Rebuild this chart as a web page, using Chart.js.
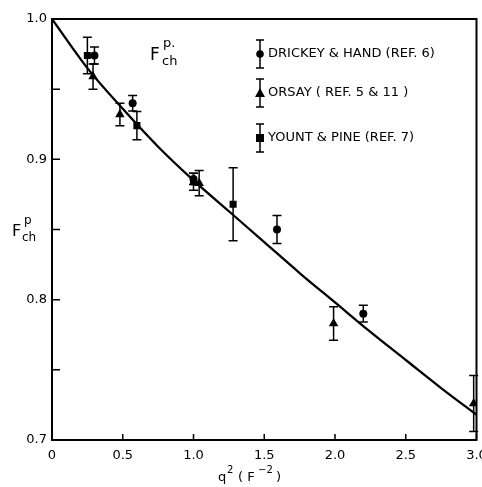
<!DOCTYPE html>
<html>
<head>
<meta charset="utf-8">
<script src="https://cdn.jsdelivr.net/npm/chart.js@4/dist/chart.umd.min.js"></script>
<style>
  html, body { margin: 0; padding: 0; background: #fff; }
  #wrap { width: 482px; height: 487px; }
</style>
</head>
<body>
<div id="wrap"><canvas id="c" width="482" height="487"></canvas></div>
<script>
// Proton charge form factor vs q^2
const drickeyX   = [0.30, 0.57, 1.00, 1.59, 2.20];
const drickeyY   = [0.974, 0.940, 0.886, 0.850, 0.790];
const drickeyErr = [0.006, 0.0055, 0.004, 0.010, 0.006];

const orsayX   = [0.29, 0.48, 1.04, 1.99, 2.98];
const orsayY   = [0.959, 0.932, 0.883, 0.783, 0.726];
const orsayErr = [0.009, 0.008, 0.009, 0.012, 0.020];

const yountX   = [0.25, 0.60, 1.00, 1.28];
const yountY   = [0.974, 0.924, 0.884, 0.868];
const yountErr = [0.013, 0.010, 0.006, 0.026];

// fitted curve
const curveX = [0, 0.25, 0.5, 0.75, 1.0, 1.25, 1.5, 1.75, 2.0, 2.25, 2.5, 2.75, 3.0];
const curveY = [1.000, 0.965, 0.936, 0.909, 0.885, 0.863, 0.841, 0.819, 0.798, 0.777, 0.757, 0.737, 0.718];

const xTicks = [0, 0.5, 1.0, 1.5, 2.0, 2.5, 3.0];
const xTickLabels = ['0', '0.5', '1.0', '1.5', '2.0', '2.5', '3.0'];
const yTicks = [0.70, 0.75, 0.80, 0.85, 0.90, 0.95, 1.00];
const yTickLabels = ['0.7', '', '0.8', '', '0.9', '', '1.0'];

const legendNames = ['DRICKEY & HAND (REF. 6)', 'ORSAY ( REF. 5 & 11 )', 'YOUNT & PINE (REF. 7)'];

const FONT = '"DejaVu Sans", sans-serif';

function pts(xs, ys, es) {
  return xs.map((x, i) => ({ x: x, y: ys[i], e: es ? es[i] : 0 }));
}

// error bars, frame, inward ticks, legend and labels
const decor = {
  id: 'decor',
  afterDatasetsDraw(chart) {
    const ctx = chart.ctx;
    const xs = chart.scales.x, ys = chart.scales.y;
    const a = chart.chartArea;
    ctx.save();
    ctx.strokeStyle = '#000';
    ctx.fillStyle = '#000';

    // error bars
    ctx.lineWidth = 1.5;
    chart.data.datasets.forEach((ds) => {
      if (!ds.errorBars) return;
      ds.data.forEach((p) => {
        const px = xs.getPixelForValue(p.x);
        const top = ys.getPixelForValue(p.y + p.e);
        const bot = ys.getPixelForValue(p.y - p.e);
        ctx.beginPath();
        ctx.moveTo(px, top); ctx.lineTo(px, bot);
        ctx.moveTo(px - 4.5, top); ctx.lineTo(px + 4.5, top);
        ctx.moveTo(px - 4.5, bot); ctx.lineTo(px + 4.5, bot);
        ctx.stroke();
      });
    });

    // frame
    ctx.lineWidth = 2;
    ctx.strokeRect(a.left, a.top, a.right - a.left, a.bottom - a.top);

    // inward tick marks
    ctx.lineWidth = 1.5;
    ctx.beginPath();
    xTicks.forEach((v) => {
      const px = xs.getPixelForValue(v);
      ctx.moveTo(px, a.bottom); ctx.lineTo(px, a.bottom - 6);
    });
    yTicks.forEach((v) => {
      const py = ys.getPixelForValue(v);
      ctx.moveTo(a.left, py); ctx.lineTo(a.left + 8, py);
    });
    ctx.stroke();

    // legend
    const lx = 260;
    const rows = [54, 93, 138];
    const styles = ['circle', 'triangle', 'rect'];
    ctx.font = '13px ' + FONT;
    ctx.textBaseline = 'middle';
    ctx.textAlign = 'left';
    rows.forEach((ry, i) => {
      ctx.lineWidth = 1.5;
      ctx.beginPath();
      ctx.moveTo(lx, ry - 14); ctx.lineTo(lx, ry + 14);
      ctx.moveTo(lx - 4, ry - 14); ctx.lineTo(lx + 4, ry - 14);
      ctx.moveTo(lx - 4, ry + 14); ctx.lineTo(lx + 4, ry + 14);
      ctx.stroke();
      ctx.beginPath();
      if (styles[i] === 'circle') {
        ctx.arc(lx, ry, 3.8, 0, Math.PI * 2);
      } else if (styles[i] === 'triangle') {
        ctx.moveTo(lx, ry - 5); ctx.lineTo(lx + 5, ry + 4); ctx.lineTo(lx - 5, ry + 4); ctx.closePath();
      } else {
        ctx.rect(lx - 4, ry - 4, 8, 8);
      }
      ctx.fill();
      ctx.fillText(legendNames[i], lx + 8, ry);
    });

    // in-plot title F_ch^p.
    ctx.font = '17px ' + FONT;
    ctx.textBaseline = 'alphabetic';
    ctx.fillText('F', 150, 60);
    ctx.font = '13px ' + FONT;
    ctx.fillText('ch', 162, 65);
    ctx.fillText('p.', 163, 47);

    // y-axis title F_ch^p
    ctx.font = '16px ' + FONT;
    ctx.fillText('F', 12, 236);
    ctx.font = '12px ' + FONT;
    ctx.fillText('ch', 22, 241);
    ctx.fillText('p', 24, 224);

    // x-axis title q^2 (F^-2)
    ctx.font = '13px ' + FONT;
    ctx.textAlign = 'left';
    ctx.fillText('q', 218, 481);
    ctx.font = '10px ' + FONT;
    ctx.fillText('2', 227, 473);
    ctx.font = '13px ' + FONT;
    ctx.fillText('( F', 238, 481);
    ctx.font = '10px ' + FONT;
    ctx.fillText('\u22122', 258, 473);
    ctx.font = '13px ' + FONT;
    ctx.fillText(')', 276, 481);
    ctx.restore();
  }
};

new Chart(document.getElementById('c'), {
  type: 'scatter',
  data: {
    datasets: [
      {
        label: 'curve',
        data: pts(curveX, curveY),
        showLine: true,
        borderColor: '#000',
        borderWidth: 2.3,
        pointRadius: 0,
        cubicInterpolationMode: 'monotone',
        order: 1
      },
      {
        label: legendNames[0],
        data: pts(drickeyX, drickeyY, drickeyErr),
        errorBars: true,
        pointStyle: 'circle',
        pointRadius: 4,
        backgroundColor: '#000',
        borderColor: '#000',
        borderWidth: 0
      },
      {
        label: legendNames[1],
        data: pts(orsayX, orsayY, orsayErr),
        errorBars: true,
        pointStyle: 'triangle',
        pointRadius: 5.5,
        backgroundColor: '#000',
        borderColor: '#000',
        borderWidth: 0
      },
      {
        label: legendNames[2],
        data: pts(yountX, yountY, yountErr),
        errorBars: true,
        pointStyle: 'rect',
        pointRadius: 5,
        backgroundColor: '#000',
        borderColor: '#000',
        borderWidth: 0
      }
    ]
  },
  options: {
    responsive: false,
    animation: false,
    devicePixelRatio: 1,
    layout: { padding: { top: 19, right: 5, left: 0, bottom: 0 } },
    plugins: { legend: { display: false }, tooltip: { enabled: false } },
    scales: {
      x: {
        type: 'linear',
        min: 0, max: 3.0,
        grid: { display: false, drawTicks: false },
        border: { display: false },
        afterBuildTicks(s) { s.ticks = xTicks.map(v => ({ value: v })); },
        afterFit(s) { s.height = 47; s.paddingLeft = 0; s.paddingRight = 0; },
        ticks: {
          color: '#000',
          font: { family: FONT, size: 13 },
          padding: 8,
          maxRotation: 0,
          callback(v) { const i = xTicks.indexOf(v); return i >= 0 ? xTickLabels[i] : ''; }
        }
      },
      y: {
        type: 'linear',
        min: 0.7, max: 1.0,
        grid: { display: false, drawTicks: false },
        border: { display: false },
        afterBuildTicks(s) { s.ticks = yTicks.map(v => ({ value: v })); },
        afterFit(s) { s.width = 52; s.paddingTop = 0; s.paddingBottom = 0; },
        ticks: {
          color: '#000',
          font: { family: FONT, size: 13 },
          padding: 5,
          callback(v) {
            const i = yTicks.findIndex(t => Math.abs(t - v) < 1e-6);
            return i >= 0 ? yTickLabels[i] : '';
          }
        }
      }
    }
  },
  plugins: [decor]
});
</script>
</body>
</html>
